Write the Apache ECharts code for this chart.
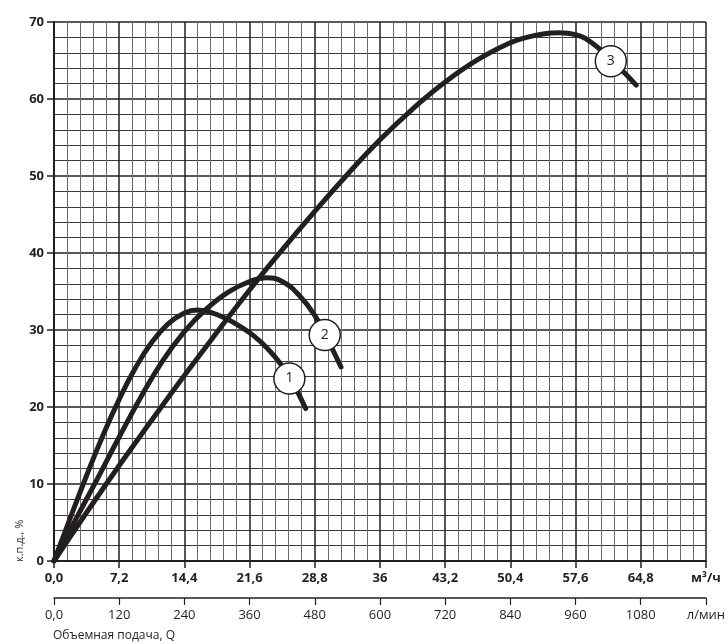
<!DOCTYPE html>
<html>
<head>
<meta charset="utf-8">
<script src="https://cdn.jsdelivr.net/npm/echarts@6/dist/echarts.min.js"></script>
<style>html,body{margin:0;padding:0;background:#fff}#c{width:728px;height:644px}</style>
</head>
<body>
<div id="c"></div>
<script>
// Tick labels
const qTickLabels = ['0,0','7,2','14,4','21,6','28,8','36','43,2','50,4','57,6','64,8','м³/ч'];
const lminTickLabels = ['0,0','120','240','360','480','600','720','840','960','1080','л/мин'];
const effTickLabels = ['0','10','20','30','40','50','60','70'];

// Curve 1: [Q m3/h, efficiency %]
const curve1 = [[0,0],[1.8,5.6],[3.6,11.1],[5.4,16.3],[7.2,21.0],[9,25.1],[10.8,28.4],[12.6,30.8],[14.4,32.2],[15.8,32.6],[17.3,32.3],[19,31.5],[20.5,30.5],[22,29.3],[23.5,27.7],[25.1,25.5],[26.3,23.3],[27.8,19.8]];
// Curve 2
const curve2 = [[0,0],[2.4,5.4],[4.8,10.7],[7.2,16.1],[9.6,21.3],[12,26],[14.4,29.8],[16.8,32.7],[19.2,34.9],[21.6,36.3],[23.4,36.8],[25.2,36.3],[27,34.6],[28.8,31.9],[30.3,28.6],[31.7,25.2]];
// Curve 3
const curve3 = [[0,0],[3.6,6.3],[7.2,12.4],[10.8,18.3],[14.4,24.1],[18,29.7],[21.6,35.2],[25.2,40.4],[28.8,45.4],[32.4,50.2],[36,54.7],[39.6,58.7],[43.2,62.2],[46.8,65.1],[50.4,67.3],[52.2,68.0],[54,68.45],[55.8,68.6],[57.6,68.35],[59.4,67.3],[61.5,65.1],[63,63.4],[64.3,61.8]];

// Curve marker labels
const markerNames = ['1','2','3'];
const markerPos = [[26.0,23.7],[29.9,29.35],[61.5,64.9]];

const ink = '#231f20';
const chart = echarts.init(document.getElementById('c'), null, {renderer:'canvas'});

function lineSeries(data){
  return {type:'line', data:data, xAxisIndex:0, yAxisIndex:0, symbol:'none', smooth:0.45,
    lineStyle:{color:ink, width:5, cap:'round', join:'round'}, z:3, silent:true};
}

chart.setOption({
  animation:false,
  backgroundColor:'#fff',
  grid:{left:54, right:21, top:22, bottom:83, containLabel:false},
  xAxis:[{
    type:'value', min:0, max:72, interval:7.2, position:'bottom',
    axisLine:{show:true, onZero:false, lineStyle:{color:ink, width:2}},
    axisTick:{show:true, length:7, lineStyle:{color:ink, width:1.5}},
    axisLabel:{margin:11, color:ink, fontFamily:'Open Sans', fontWeight:'bold', fontSize:13,
      formatter:function(v){return qTickLabels[Math.round(v/7.2)];}},
    splitLine:{show:true, lineStyle:{color:ink, width:1.5}},
    minorTick:{show:false, splitNumber:5},
    minorSplitLine:{show:true, lineStyle:{color:'#6a6a6a', width:1}}
  },{
    type:'value', min:0, max:1200, interval:120, position:'bottom', offset:37,
    axisLine:{show:true, onZero:false, lineStyle:{color:ink, width:1.5}},
    axisTick:{show:true, length:7, lineStyle:{color:ink, width:1.2}},
    axisLabel:{margin:11, color:ink, fontFamily:'Open Sans', fontSize:13,
      formatter:function(v){return lminTickLabels[Math.round(v/120)];}},
    splitLine:{show:false}
  }],
  yAxis:{
    type:'value', min:0, max:70, interval:10,
    axisLine:{show:true, onZero:false, lineStyle:{color:ink, width:2}},
    axisTick:{show:true, length:7, lineStyle:{color:ink, width:1.5}},
    axisLabel:{margin:10, color:ink, fontFamily:'Open Sans', fontWeight:'bold', fontSize:13,
      formatter:function(v){return effTickLabels[Math.round(v/10)];}},
    splitLine:{show:true, lineStyle:{color:ink, width:1.5}},
    minorTick:{show:false, splitNumber:5},
    minorSplitLine:{show:true, lineStyle:{color:'#3a3a3a', width:1}}
  },
  series:[
    lineSeries(curve1), lineSeries(curve2), lineSeries(curve3),
    {type:'scatter', xAxisIndex:0, yAxisIndex:0, z:5, silent:true,
     data:markerPos.map(function(p,i){return {value:p, name:markerNames[i]};}),
     symbol:'circle', symbolSize:31,
     itemStyle:{color:'#fff', borderColor:ink, borderWidth:1.5, opacity:1},
     label:{show:true, position:'inside', formatter:'{b}', color:ink, fontFamily:'Open Sans', fontSize:14}}
  ],
  graphic:[
    {type:'text', left:53, top:630, style:{text:'Объемная подача, Q', fill:ink, font:'12px "Open Sans"'}},
    {type:'text', x:20, y:562, rotation:Math.PI/2,
     style:{text:'к.п.д., %', fill:ink, font:'11px "Open Sans"', textAlign:'left', textVerticalAlign:'middle'}}
  ]
});
</script>
</body>
</html>
